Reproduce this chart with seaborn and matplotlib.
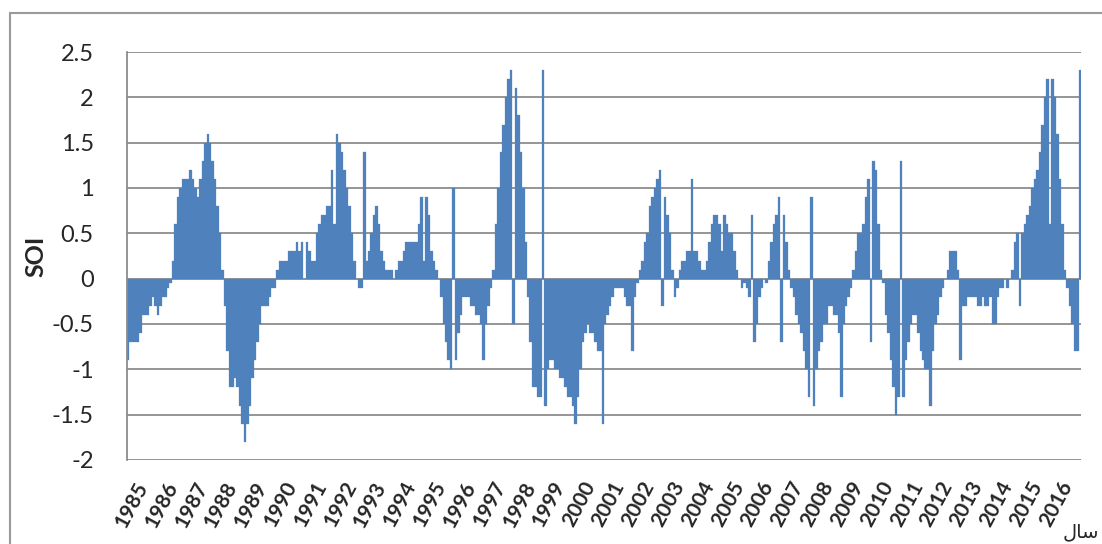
import numpy as np
import pandas as pd
import matplotlib
matplotlib.use("Agg")
import matplotlib.pyplot as plt
import matplotlib.transforms as mtransforms
from matplotlib.patches import Rectangle
import seaborn as sns

# monthly SOI values, one list per year (Jan..Dec)
years = list(range(1985, 2017))
soi_1985 = [-0.9, -0.7, -0.7, -0.7, -0.7, -0.6, -0.4, -0.4, -0.4, -0.3, -0.2, -0.3]
soi_1986 = [-0.4, -0.3, -0.2, -0.2, -0.1, -0.05, 0.2, 0.6, 0.9, 1.0, 1.1, 1.1]
soi_1987 = [1.1, 1.2, 1.1, 1.0, 0.9, 1.1, 1.3, 1.5, 1.6, 1.5, 1.3, 1.1]
soi_1988 = [0.8, 0.5, 0.1, -0.3, -0.8, -1.2, -1.2, -1.1, -1.2, -1.4, -1.6, -1.8]
soi_1989 = [-1.6, -1.4, -1.1, -0.9, -0.7, -0.5, -0.3, -0.3, -0.3, -0.2, -0.1, -0.1]
soi_1990 = [0.1, 0.2, 0.2, 0.2, 0.2, 0.3, 0.3, 0.3, 0.4, 0.3, 0.4, 0.0]
soi_1991 = [0.4, 0.3, 0.2, 0.2, 0.5, 0.6, 0.7, 0.7, 0.8, 0.8, 1.2, 0.6]
soi_1992 = [1.6, 1.5, 1.4, 1.2, 1.0, 0.8, 0.5, 0.2, 0.0, -0.1, -0.1, 1.4]
soi_1993 = [0.2, 0.3, 0.5, 0.7, 0.8, 0.6, 0.3, 0.2, 0.1, 0.1, 0.1, 0.0]
soi_1994 = [0.1, 0.2, 0.2, 0.3, 0.4, 0.4, 0.4, 0.4, 0.4, 0.6, 0.9, 0.2]
soi_1995 = [0.9, 0.7, 0.3, 0.2, 0.1, 0.0, -0.2, -0.5, -0.7, -0.9, -1.0, 1.0]
soi_1996 = [-0.9, -0.6, -0.4, -0.2, -0.2, -0.2, -0.3, -0.3, -0.4, -0.4, -0.5, -0.9]
soi_1997 = [-0.5, -0.3, -0.1, 0.1, 0.6, 1.0, 1.4, 1.7, 2.0, 2.2, 2.3, -0.5]
soi_1998 = [2.1, 1.8, 1.4, 1.0, 0.4, -0.2, -0.7, -1.2, -1.2, -1.3, -1.3, 2.3]
soi_1999 = [-1.4, -1.0, -0.9, -0.9, -1.0, -1.0, -1.1, -1.1, -1.2, -1.3, -1.3, -1.4]
soi_2000 = [-1.6, -1.3, -1.0, -0.7, -0.6, -0.5, -0.6, -0.6, -0.7, -0.8, -0.8, -1.6]
soi_2001 = [-0.5, -0.4, -0.3, -0.2, -0.1, -0.1, -0.1, -0.1, -0.2, -0.3, -0.3, -0.8]
soi_2002 = [-0.2, -0.05, 0.1, 0.2, 0.4, 0.5, 0.8, 0.9, 1.0, 1.1, 1.2, -0.3]
soi_2003 = [0.9, 0.7, 0.5, 0.1, -0.2, -0.1, 0.1, 0.2, 0.2, 0.3, 0.3, 1.1]
soi_2004 = [0.3, 0.3, 0.2, 0.1, 0.1, 0.2, 0.4, 0.6, 0.7, 0.7, 0.6, 0.3]
soi_2005 = [0.7, 0.6, 0.5, 0.5, 0.3, 0.1, 0.0, -0.1, -0.05, -0.1, -0.2, 0.7]
soi_2006 = [-0.7, -0.5, -0.2, -0.1, 0.0, -0.05, 0.2, 0.4, 0.6, 0.7, 0.9, -0.7]
soi_2007 = [0.7, 0.4, 0.1, -0.1, -0.2, -0.4, -0.5, -0.6, -0.8, -1.0, -1.3, 0.9]
soi_2008 = [-1.4, -1.0, -0.8, -0.7, -0.5, -0.5, -0.3, -0.3, -0.4, -0.4, -0.6, -1.3]
soi_2009 = [-0.5, -0.3, -0.2, -0.1, 0.1, 0.3, 0.5, 0.5, 0.6, 0.9, 1.1, -0.7]
soi_2010 = [1.3, 1.2, 0.6, 0.1, -0.05, -0.4, -0.6, -0.9, -1.2, -1.5, -1.3, 1.3]
soi_2011 = [-1.3, -0.9, -0.7, -0.5, -0.4, -0.4, -0.6, -0.8, -0.9, -1.0, -1.0, -1.4]
soi_2012 = [-0.8, -0.5, -0.4, -0.2, -0.1, 0.0, 0.1, 0.3, 0.3, 0.3, 0.1, -0.9]
soi_2013 = [-0.3, -0.3, -0.2, -0.2, -0.2, -0.2, -0.3, -0.3, -0.2, -0.3, -0.3, -0.2]
soi_2014 = [-0.5, -0.5, -0.2, -0.1, -0.1, 0.0, -0.1, 0.0, 0.1, 0.4, 0.5, -0.3]
soi_2015 = [0.5, 0.6, 0.7, 0.8, 1.0, 1.1, 1.2, 1.4, 1.7, 2.0, 2.2, 0.6]
soi_2016 = [2.2, 2.0, 1.6, 1.1, 0.6, 0.1, -0.1, -0.3, -0.5, -0.8, -0.8, 2.3]

soi = (soi_1985 + soi_1986 + soi_1987 + soi_1988 + soi_1989 + soi_1990 + soi_1991
       + soi_1992 + soi_1993 + soi_1994 + soi_1995 + soi_1996 + soi_1997 + soi_1998
       + soi_1999 + soi_2000 + soi_2001 + soi_2002 + soi_2003 + soi_2004 + soi_2005
       + soi_2006 + soi_2007 + soi_2008 + soi_2009 + soi_2010 + soi_2011 + soi_2012
       + soi_2013 + soi_2014 + soi_2015 + soi_2016)
y_ticks = [-2, -1.5, -1, -0.5, 0, 0.5, 1, 1.5, 2, 2.5]

df = pd.DataFrame({"month": np.arange(len(soi)), "soi": soi})

sns.set_style("white")
plt.rcParams["font.family"] = ["Lato", "DejaVu Sans"]

W, H = 1102, 544
fig = plt.figure(figsize=(W / 100, H / 100), dpi=100)
ax = fig.add_axes([127 / W, 84 / H, 954 / W, 408 / H])

bar_col = "#4F81BD"
grid_col = "#8c8c8c"
sns.barplot(data=df, x="month", y="soi", color=bar_col, saturation=1, width=1.0,
            errorbar=None, edgecolor=bar_col, linewidth=0.2, ax=ax)

ax.set_xlim(-0.5, len(soi) - 0.5)
ax.set_ylim(-2, 2.5)
ax.set_axisbelow(True)
ax.set_yticks(y_ticks)
ax.set_yticklabels([f"{v:g}" for v in y_ticks])
ax.yaxis.grid(True, color=grid_col, lw=1.3)
ax.xaxis.grid(False)
for s in ["top", "right", "bottom"]:
    ax.spines[s].set_visible(False)
ax.spines["left"].set_color(grid_col)
ax.spines["left"].set_linewidth(1.3)

ax.tick_params(axis="y", length=7, width=1.3, color=grid_col, pad=17, labelsize=17)
ax.tick_params(axis="x", length=0, pad=13)
ax.set_xticks(range(0, len(soi), 12))
ax.set_xticklabels([str(y) for y in years], rotation=62, ha="right", va="top",
                   rotation_mode="anchor", fontsize=15, fontweight="bold")
offset = mtransforms.ScaledTranslation(6 / 100, 0, fig.dpi_scale_trans)
for lab in ax.get_xticklabels():
    lab.set_transform(lab.get_transform() + offset)

ax.set_xlabel("")
ax.set_ylabel("SOI", fontsize=18, fontweight="bold", labelpad=3)

# x-axis title (Persian "year") at the bottom right corner
fig.text(1099 / W, 1 - 537 / H, "\uFEDD\uFE8E\uFEB3", fontsize=14,
         family="DejaVu Sans", ha="right", va="baseline")

# chart-area border
fig.patches.append(Rectangle((10 / W, -0.2), 1.2, 1 - 13 / H + 0.2,
                             transform=fig.transFigure, fill=False,
                             edgecolor="#9a9a9a", lw=1.5, clip_on=False))

fig.savefig("out.png", dpi=100)
